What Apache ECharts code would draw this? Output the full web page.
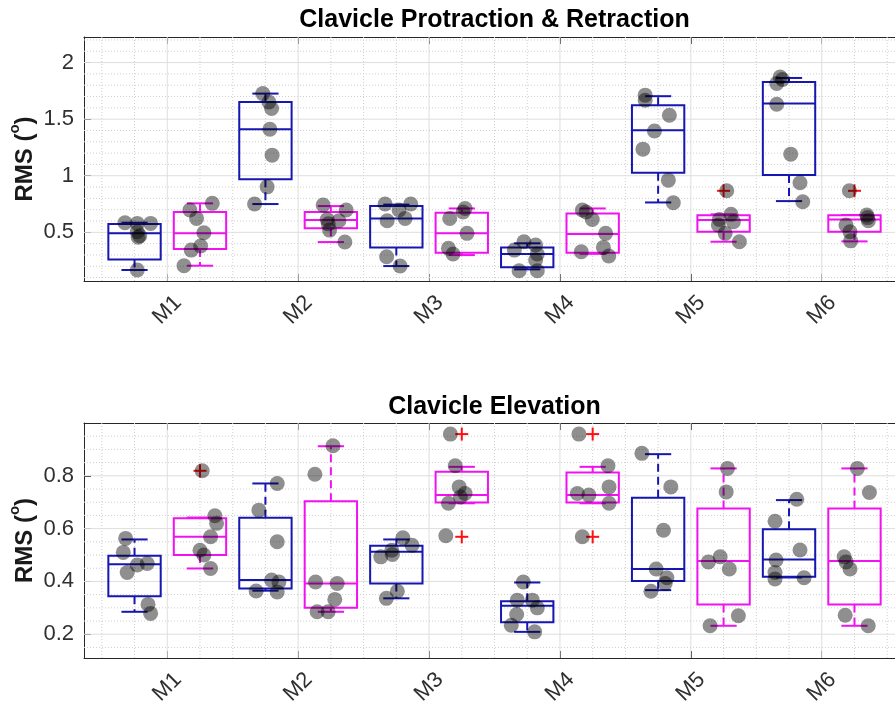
<!DOCTYPE html>
<html>
<head>
<meta charset="utf-8">
<script src="https://cdn.jsdelivr.net/npm/echarts@6/dist/echarts.min.js"></script>
<style>
  html, body { margin: 0; padding: 0; background: #ffffff; }
  #chart { width: 895px; height: 709px; }
</style>
</head>
<body>
<div id="chart"></div>
<script>
// ---------------------------------------------------------------------------
// Data
// ---------------------------------------------------------------------------
const categories = ['M1', 'M2', 'M3', 'M4', 'M5', 'M6'];

// Box statistics per movement: [lower whisker, Q1, median, Q3, upper whisker]
// Clavicle Protraction & Retraction
const protBlueStats = [
  [0.167, 0.261, 0.493, 0.573, 0.585],
  [0.750, 0.970, 1.411, 1.652, 1.726],
  [0.202, 0.367, 0.623, 0.732, 0.745],
  [0.173, 0.191, 0.308, 0.367, 0.403],
  [0.764, 1.026, 1.403, 1.623, 1.703],
  [0.776, 1.006, 1.638, 1.829, 1.864]
];
const protMagentaStats = [
  [0.205, 0.352, 0.491, 0.679, 0.756],
  [0.414, 0.535, 0.610, 0.679, 0.732],
  [0.299, 0.320, 0.491, 0.673, 0.711],
  [0.310, 0.320, 0.485, 0.667, 0.711],
  [0.417, 0.505, 0.608, 0.650, 0.659],
  [0.420, 0.505, 0.614, 0.650, 0.653]
];
const protBlueOutliers = [[], [], [], [], [], []];
const protMagentaOutliers = [[], [], [], [], [0.867], [0.867]];

// Individual subject values and their horizontal jitter (offset from the movement position)
const protBlueValues = [
  [0.585, 0.579, 0.579, 0.505, 0.456, 0.470, 0.167],
  [1.726, 1.652, 1.594, 1.411, 1.182, 0.902, 0.750],
  [0.750, 0.697, 0.750, 0.602, 0.623, 0.284, 0.202],
  [0.417, 0.388, 0.308, 0.343, 0.255, 0.161, 0.161],
  [1.712, 1.667, 1.535, 1.396, 1.235, 0.961, 0.761],
  [1.873, 1.815, 1.850, 1.632, 1.191, 0.938, 0.770]
];
const protBlueJitter = [
  [-0.323, -0.229, -0.127, -0.229, -0.222, -0.210, -0.229],
  [-0.270, -0.224, -0.203, -0.216, -0.199, -0.237, -0.333],
  [-0.336, -0.229, -0.140, -0.320, -0.183, -0.324, -0.221],
  [-0.275, -0.186, -0.173, -0.348, -0.186, -0.312, -0.173],
  [-0.349, -0.349, -0.164, -0.278, -0.366, -0.172, -0.134],
  [-0.318, -0.344, -0.300, -0.344, -0.237, -0.166, -0.145]
];
const protMagentaValues = [
  [0.756, 0.697, 0.623, 0.496, 0.379, 0.343, 0.205],
  [0.741, 0.697, 0.614, 0.602, 0.575, 0.520, 0.414],
  [0.711, 0.680, 0.623, 0.491, 0.360, 0.308],
  [0.697, 0.680, 0.614, 0.491, 0.367, 0.329, 0.291],
  [0.867, 0.659, 0.614, 0.593, 0.564, 0.491, 0.417],
  [0.867, 0.653, 0.630, 0.602, 0.564, 0.505, 0.425]
];
const protMagentaJitter = [
  [0.344, 0.173, 0.224, 0.280, 0.255, 0.183, 0.128],
  [0.191, 0.367, 0.222, 0.311, 0.230, 0.240, 0.357],
  [0.275, 0.260, 0.158, 0.290, 0.148, 0.183],
  [0.171, 0.200, 0.247, 0.349, 0.332, 0.163, 0.373],
  [0.274, 0.307, 0.218, 0.325, 0.210, 0.262, 0.371],
  [0.211, 0.344, 0.350, 0.356, 0.185, 0.216, 0.221]
];

// Clavicle Elevation
const elevBlueStats = [
  [0.285, 0.344, 0.465, 0.497, 0.559],
  [0.365, 0.373, 0.405, 0.641, 0.771],
  [0.336, 0.392, 0.512, 0.535, 0.559],
  [0.209, 0.245, 0.308, 0.325, 0.396],
  [0.367, 0.402, 0.447, 0.717, 0.882],
  [0.415, 0.418, 0.483, 0.598, 0.708]
];
const elevMagentaStats = [
  [0.449, 0.500, 0.569, 0.639, 0.642],
  [0.285, 0.300, 0.392, 0.704, 0.912],
  [0.696, 0.699, 0.727, 0.815, 0.834],
  [0.696, 0.699, 0.727, 0.813, 0.834],
  [0.232, 0.313, 0.477, 0.676, 0.828],
  [0.232, 0.313, 0.477, 0.676, 0.828]
];
const elevBlueOutliers = [[], [], [], [], [], []];
const elevMagentaOutliers = [[0.819], [], [0.958, 0.569], [0.958, 0.569], [], []];

const elevBlueValues = [
  [0.563, 0.510, 0.462, 0.468, 0.434, 0.313, 0.279],
  [0.771, 0.670, 0.550, 0.405, 0.398, 0.364, 0.360],
  [0.565, 0.537, 0.518, 0.493, 0.502, 0.363, 0.336],
  [0.398, 0.329, 0.329, 0.300, 0.275, 0.234, 0.209],
  [0.885, 0.758, 0.594, 0.447, 0.414, 0.392, 0.363],
  [0.711, 0.628, 0.519, 0.481, 0.434, 0.409, 0.414]
];
const elevBlueJitter = [
  [-0.318, -0.336, -0.229, -0.153, -0.306, -0.147, -0.127],
  [-0.160, -0.300, -0.160, -0.203, -0.147, -0.321, -0.160],
  [-0.200, -0.130, -0.285, -0.369, -0.280, -0.242, -0.326],
  [-0.280, -0.326, -0.211, -0.173, -0.331, -0.372, -0.193],
  [-0.374, -0.153, -0.209, -0.265, -0.183, -0.196, -0.305],
  [-0.191, -0.357, -0.166, -0.349, -0.357, -0.357, -0.135]
];
const elevMagentaValues = [
  [0.819, 0.649, 0.620, 0.569, 0.518, 0.500, 0.449],
  [0.914, 0.806, 0.398, 0.392, 0.332, 0.285, 0.285],
  [0.958, 0.838, 0.758, 0.733, 0.720, 0.696, 0.573],
  [0.958, 0.838, 0.758, 0.733, 0.727, 0.696, 0.569],
  [0.828, 0.739, 0.493, 0.474, 0.447, 0.270, 0.232],
  [0.828, 0.737, 0.493, 0.474, 0.447, 0.272, 0.232]
];
const elevMagentaJitter = [
  [0.267, 0.364, 0.377, 0.331, 0.250, 0.280, 0.331],
  [0.266, 0.128, 0.133, 0.298, 0.280, 0.145, 0.229],
  [0.163, 0.200, 0.230, 0.275, 0.240, 0.148, 0.128],
  [0.145, 0.367, 0.375, 0.133, 0.221, 0.375, 0.171],
  [0.280, 0.270, 0.224, 0.134, 0.294, 0.363, 0.147],
  [0.272, 0.364, 0.171, 0.186, 0.216, 0.179, 0.355]
];

// Axis ticks and grid lines
const xTicks = [1, 2, 3, 4, 5, 6];
const xMinorGrid = [0.5, 0.75, 1.25, 1.5, 1.75, 2.25, 2.5, 2.75, 3.25, 3.5, 3.75,
                    4.25, 4.5, 4.75, 5.25, 5.5, 5.75, 6.25, 6.5];
const protYTicks = [0.5, 1, 1.5, 2];
const protYMinorGrid = [0.1, 0.2, 0.3, 0.4, 0.6, 0.7, 0.8, 0.9, 1.1, 1.2, 1.3, 1.4,
                        1.6, 1.7, 1.8, 1.9, 2.1, 2.2];
const elevYTicks = [0.2, 0.4, 0.6, 0.8];
const elevYMinorGrid = [0.15, 0.25, 0.3, 0.35, 0.45, 0.5, 0.55, 0.65, 0.7, 0.75,
                        0.85, 0.9, 0.95];

// ---------------------------------------------------------------------------
// Styling
// ---------------------------------------------------------------------------
const FONT = "'Liberation Sans', Arial, Helvetica, sans-serif";
const AXIS_COLOR = '#262626';
const BLUE = '#1616b0';
const MAGENTA = '#f012f0';
const OUTLIER = '#ff1010';
const DOT = 'rgba(0,0,0,0.55)';
const GROUP_OFFSET = 0.25;   // blue boxes left of the movement, magenta right
const BOX_HALF = 0.2;
const CAP_HALF = 0.1;
const X_RANGE = [0.364, 6.636];

const panels = [
  { title: 'Clavicle Protraction & Retraction', yRange: [0.07, 2.226], yTicks: protYTicks,
    yMinor: protYMinorGrid, grid: { left: 84, top: 37, width: 821, height: 244 },
    blueStats: protBlueStats, magentaStats: protMagentaStats,
    blueOut: protBlueOutliers, magentaOut: protMagentaOutliers,
    blueVals: protBlueValues, blueJit: protBlueJitter,
    magentaVals: protMagentaValues, magentaJit: protMagentaJitter, titleY: 20.5 },
  { title: 'Clavicle Elevation', yRange: [0.11, 1.0], yTicks: elevYTicks,
    yMinor: elevYMinorGrid, grid: { left: 84, top: 423, width: 821, height: 235 },
    blueStats: elevBlueStats, magentaStats: elevMagentaStats,
    blueOut: elevBlueOutliers, magentaOut: elevMagentaOutliers,
    blueVals: elevBlueValues, blueJit: elevBlueJitter,
    magentaVals: elevMagentaValues, magentaJit: elevMagentaJitter, titleY: 407 }
];

// ---------------------------------------------------------------------------
// Series builders
// ---------------------------------------------------------------------------
function gridLineSeries(g, panel) {
  // each item: [orientation (0 vertical / 1 horizontal), value, isMajor]
  const items = [];
  xMinorGrid.forEach(v => items.push([0, v, 0]));
  xTicks.forEach(v => items.push([0, v, 1]));
  panel.yMinor.forEach(v => items.push([1, v, 0]));
  panel.yTicks.forEach(v => items.push([1, v, 1]));
  return {
    type: 'custom', xAxisIndex: g * 2, yAxisIndex: g, z: 1, silent: true,
    data: items,
    renderItem(params, api) {
      const cs = params.coordSys;
      const orient = api.value(0), v = api.value(1), major = api.value(2);
      let shape;
      if (orient === 0) {
        const p = api.coord([v, panel.yRange[0]]);
        shape = { x1: p[0], y1: cs.y, x2: p[0], y2: cs.y + cs.height };
      } else {
        const p = api.coord([X_RANGE[0], v]);
        shape = { x1: cs.x, y1: p[1], x2: cs.x + cs.width, y2: p[1] };
      }
      return {
        type: 'line', shape,
        style: major
          ? { stroke: '#dedede', lineWidth: 1 }
          : { stroke: '#cfcfcf', lineWidth: 1, lineDash: [1, 2] }
      };
    }
  };
}

function boxSeries(g, stats, offset, color) {
  return {
    type: 'custom', xAxisIndex: g * 2, yAxisIndex: g, z: 3, silent: true,
    data: stats.map((s, i) => [xTicks[i] + offset].concat(s)),
    renderItem(params, api) {
      const x = api.value(0);
      const lo = api.value(1), q1 = api.value(2), md = api.value(3),
            q3 = api.value(4), hi = api.value(5);
      const seg = (a, b, dash) => ({
        type: 'line',
        shape: { x1: a[0], y1: a[1], x2: b[0], y2: b[1] },
        style: { stroke: color, lineWidth: 2, lineDash: dash || null }
      });
      const tl = api.coord([x - BOX_HALF, q3]);
      const br = api.coord([x + BOX_HALF, q1]);
      return {
        type: 'group',
        children: [
          seg(api.coord([x, q3]), api.coord([x, hi]), [8, 5]),
          seg(api.coord([x, q1]), api.coord([x, lo]), [8, 5]),
          seg(api.coord([x - CAP_HALF, hi]), api.coord([x + CAP_HALF, hi])),
          seg(api.coord([x - CAP_HALF, lo]), api.coord([x + CAP_HALF, lo])),
          {
            type: 'rect',
            shape: { x: tl[0], y: tl[1], width: br[0] - tl[0], height: br[1] - tl[1] },
            style: { stroke: color, fill: null, lineWidth: 2 }
          },
          seg(api.coord([x - BOX_HALF, md]), api.coord([x + BOX_HALF, md]))
        ]
      };
    }
  };
}

function outlierSeries(g, outliers, offset) {
  const data = [];
  outliers.forEach((list, i) => list.forEach(v => data.push([xTicks[i] + offset, v])));
  return {
    type: 'custom', xAxisIndex: g * 2, yAxisIndex: g, z: 4, silent: true,
    data,
    renderItem(params, api) {
      const p = api.coord([api.value(0), api.value(1)]);
      const h = 6.5;
      const st = { stroke: OUTLIER, lineWidth: 2 };
      return {
        type: 'group',
        children: [
          { type: 'line', shape: { x1: p[0] - h, y1: p[1], x2: p[0] + h, y2: p[1] }, style: st },
          { type: 'line', shape: { x1: p[0], y1: p[1] - h, x2: p[0], y2: p[1] + h }, style: st }
        ]
      };
    }
  };
}

function dotSeries(g, values, jitter) {
  const data = [];
  values.forEach((list, i) => list.forEach((v, k) => data.push([xTicks[i] + jitter[i][k], v])));
  return {
    type: 'scatter', xAxisIndex: g * 2, yAxisIndex: g, z: 5, silent: true,
    symbol: 'circle', symbolSize: 15,
    itemStyle: { color: DOT, borderWidth: 0 },
    data
  };
}

// ---------------------------------------------------------------------------
// Option
// ---------------------------------------------------------------------------
const grids = [], xAxes = [], yAxes = [], series = [], graphics = [];

panels.forEach((panel, g) => {
  grids.push(Object.assign({ containLabel: false, outerBoundsMode: 'none' }, panel.grid));

  const tickStyle = { lineStyle: { color: AXIS_COLOR, width: 1 } };
  // bottom axis with movement labels
  xAxes.push({
    type: 'value', gridIndex: g, position: 'bottom',
    min: X_RANGE[0], max: X_RANGE[1],
    axisLine: { show: true, onZero: false, lineStyle: { color: AXIS_COLOR, width: 1 } },
    axisTick: Object.assign({ show: true, inside: true, length: 7, customValues: xTicks }, tickStyle),
    axisLabel: {
      show: true, customValues: xTicks,
      formatter: v => categories[Math.round(v) - 1] || '',
      rotate: 45, align: 'center', verticalAlign: 'middle', margin: 29,
      fontFamily: FONT, fontSize: 22, color: '#303030'
    },
    splitLine: { show: false }, minorSplitLine: { show: false }
  });
  // top edge of the box
  xAxes.push({
    type: 'value', gridIndex: g, position: 'top',
    min: X_RANGE[0], max: X_RANGE[1],
    axisLine: { show: true, onZero: false, lineStyle: { color: AXIS_COLOR, width: 1 } },
    axisTick: Object.assign({ show: true, inside: true, length: 7, customValues: xTicks }, tickStyle),
    axisLabel: { show: false },
    splitLine: { show: false }
  });

  yAxes.push({
    type: 'value', gridIndex: g, position: 'left',
    min: panel.yRange[0], max: panel.yRange[1],
    axisLine: { show: true, onZero: false, lineStyle: { color: AXIS_COLOR, width: 1 } },
    axisTick: Object.assign({ show: true, inside: true, length: 7, customValues: panel.yTicks }, tickStyle),
    axisLabel: {
      show: true, customValues: panel.yTicks, margin: 10,
      formatter: v => String(v),
      fontFamily: FONT, fontSize: 22, color: '#303030'
    },
    splitLine: { show: false },
    name: '{main|RMS (}{sup|o}{main|)}',
    nameLocation: 'middle', nameGap: 47, nameMoveOverlap: false,
    nameTextStyle: {
      fontFamily: FONT, fontSize: 24, fontWeight: 'bold', color: '#1a1a1a',
      rich: {
        main: { fontFamily: FONT, fontSize: 24, fontWeight: 'bold', color: '#1a1a1a',
                lineHeight: 30, verticalAlign: 'bottom' },
        sup: { fontFamily: FONT, fontSize: 15, fontWeight: 'bold', color: '#1a1a1a',
               lineHeight: 15, verticalAlign: 'top' }
      }
    }
  });

  series.push(gridLineSeries(g, panel));
  series.push(boxSeries(g, panel.blueStats, -GROUP_OFFSET, BLUE));
  series.push(boxSeries(g, panel.magentaStats, GROUP_OFFSET, MAGENTA));
  series.push(outlierSeries(g, panel.blueOut, -GROUP_OFFSET));
  series.push(outlierSeries(g, panel.magentaOut, GROUP_OFFSET));
  series.push(dotSeries(g, panel.blueVals, panel.blueJit));
  series.push(dotSeries(g, panel.magentaVals, panel.magentaJit));

  graphics.push({
    type: 'text',
    x: panel.grid.left + panel.grid.width / 2, y: panel.titleY,
    style: {
      text: panel.title,
      font: 'bold 25px ' + FONT,
      fill: '#000000',
      align: 'center', verticalAlign: 'middle'
    }
  });
});

const chart = echarts.init(document.getElementById('chart'), null, { renderer: 'canvas' });
chart.setOption({
  animation: false,
  backgroundColor: '#ffffff',
  grid: grids,
  xAxis: xAxes,
  yAxis: yAxes,
  series,
  graphic: graphics
});
</script>
</body>
</html>
